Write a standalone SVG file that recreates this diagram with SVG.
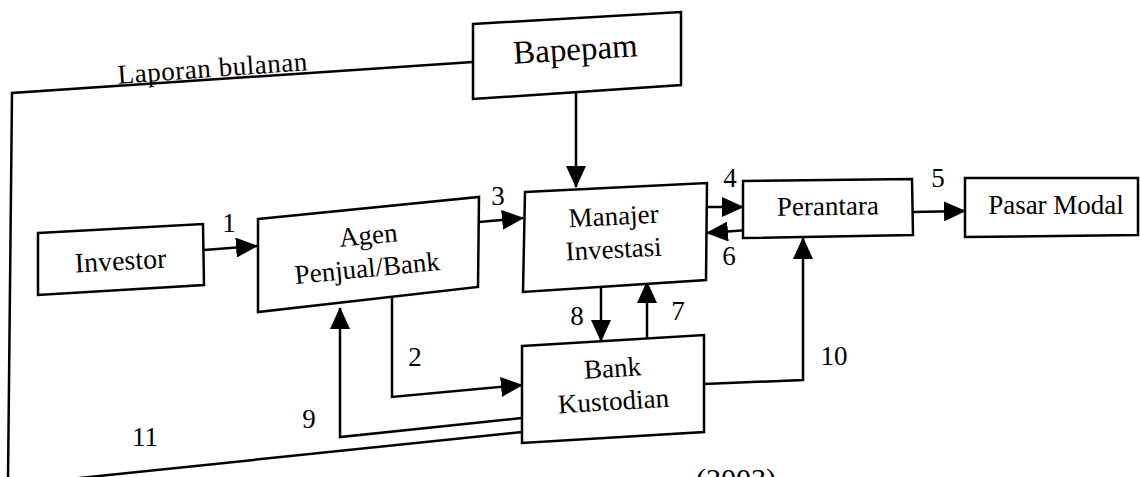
<svg xmlns="http://www.w3.org/2000/svg" width="1140" height="477" viewBox="0 0 1140 477">
<defs>
<style>
.box{fill:#fff;stroke:#000;stroke-width:2.5;stroke-linejoin:miter}
.ln{fill:none;stroke:#000;stroke-width:2.5}
.t{font-family:"Liberation Serif","Times New Roman",serif;font-size:27px;fill:#000;text-anchor:middle}
.n{font-family:"Liberation Serif","Times New Roman",serif;font-size:27px;fill:#000;text-anchor:middle}
</style>
<marker id="ah" markerUnits="userSpaceOnUse" markerWidth="22" markerHeight="20" refX="21" refY="10" orient="auto" viewBox="0 0 22 20">
<path d="M0,0 L22,10 L0,20 Z" fill="#000"/>
</marker>
</defs>
<rect width="1140" height="477" fill="#fff"/>

<g id="connectors">
<path class="ln" d="M473,62 L12,93 L8,480"/>
<path class="ln" d="M522,432 L70,479"/>
<path class="ln" d="M576,88 L576,187" marker-end="url(#ah)"/>
<path class="ln" d="M204,250 L257,246" marker-end="url(#ah)"/>
<path class="ln" d="M392,297 L392,397 L522,385" marker-end="url(#ah)"/>
<path class="ln" d="M479,222 L523,218" marker-end="url(#ah)"/>
<path class="ln" d="M707,207 L743,207" marker-end="url(#ah)"/>
<path class="ln" d="M913,212 L965,211" marker-end="url(#ah)"/>
<path class="ln" d="M748,230 L707,233" marker-end="url(#ah)"/>
<path class="ln" d="M647,342 L647,282" marker-end="url(#ah)"/>
<path class="ln" d="M601,287 L601,341" marker-end="url(#ah)"/>
<path class="ln" d="M522,418 L340,437 L340,308" marker-end="url(#ah)"/>
<path class="ln" d="M704,384 L803,380 L803,238" marker-end="url(#ah)"/>
<text class="t" transform="rotate(-4.1 213 77)" x="213" y="77" textLength="190">Laporan bulanan</text>
<text class="n" x="229" y="232">1</text>
<text class="n" x="415" y="366">2</text>
<text class="n" x="498" y="205">3</text>
<text class="n" x="730" y="187">4</text>
<text class="n" x="938" y="187">5</text>
<text class="n" x="729" y="265">6</text>
<text class="n" x="678" y="320">7</text>
<text class="n" x="577" y="325">8</text>
<text class="n" x="309" y="428">9</text>
<text class="n" x="834" y="365">10</text>
<text class="n" x="145" y="446">11</text>
</g>

<g id="bapepam">
<polygon class="box" points="473,24 681,12 681,85 473,99"/>
<text class="t" style="font-size:33px" transform="rotate(-3.5 576 60)" x="576" y="60">Bapepam</text>
</g>

<g id="investor">
<polygon class="box" points="38,233 203,224 204,285 38,295"/>
<text class="t" style="font-size:28px" transform="rotate(-3.2 121 270)" x="121" y="270">Investor</text>
</g>

<g id="agen">
<polygon class="box" points="258,219 479,197 478,287 258,312"/>
<text class="t" transform="rotate(-5.5 369 244)" x="369" y="244">Agen</text>
<text class="t" transform="rotate(-5.5 368 277)" x="368" y="277">Penjual/Bank</text>
</g>

<g id="manajer">
<polygon class="box" points="525,192 707,183 706,280 523,292"/>
<text class="t" transform="rotate(-3 614 225)" x="614" y="225">Manajer</text>
<text class="t" transform="rotate(-3 614 258)" x="614" y="258">Investasi</text>
</g>

<g id="perantara">
<polygon class="box" points="743,181 912,179 913,235 743,238"/>
<text class="t" transform="rotate(-0.8 828 215)" x="828" y="215">Perantara</text>
</g>

<g id="pasar-modal">
<polygon class="box" points="965,178 1138,178 1138,235 965,237"/>
<text class="t" x="1056" y="214">Pasar Modal</text>
</g>

<g id="bank-kustodian">
<polygon class="box" points="522,346 704,335 704,432 522,443"/>
<text class="t" transform="rotate(-3.5 613 377)" x="613" y="377">Bank</text>
<text class="t" transform="rotate(-3.5 614 410)" x="614" y="410">Kustodian</text>
</g>

<text class="t" style="font-size:30px" x="736" y="489">(2003)</text>
</svg>
